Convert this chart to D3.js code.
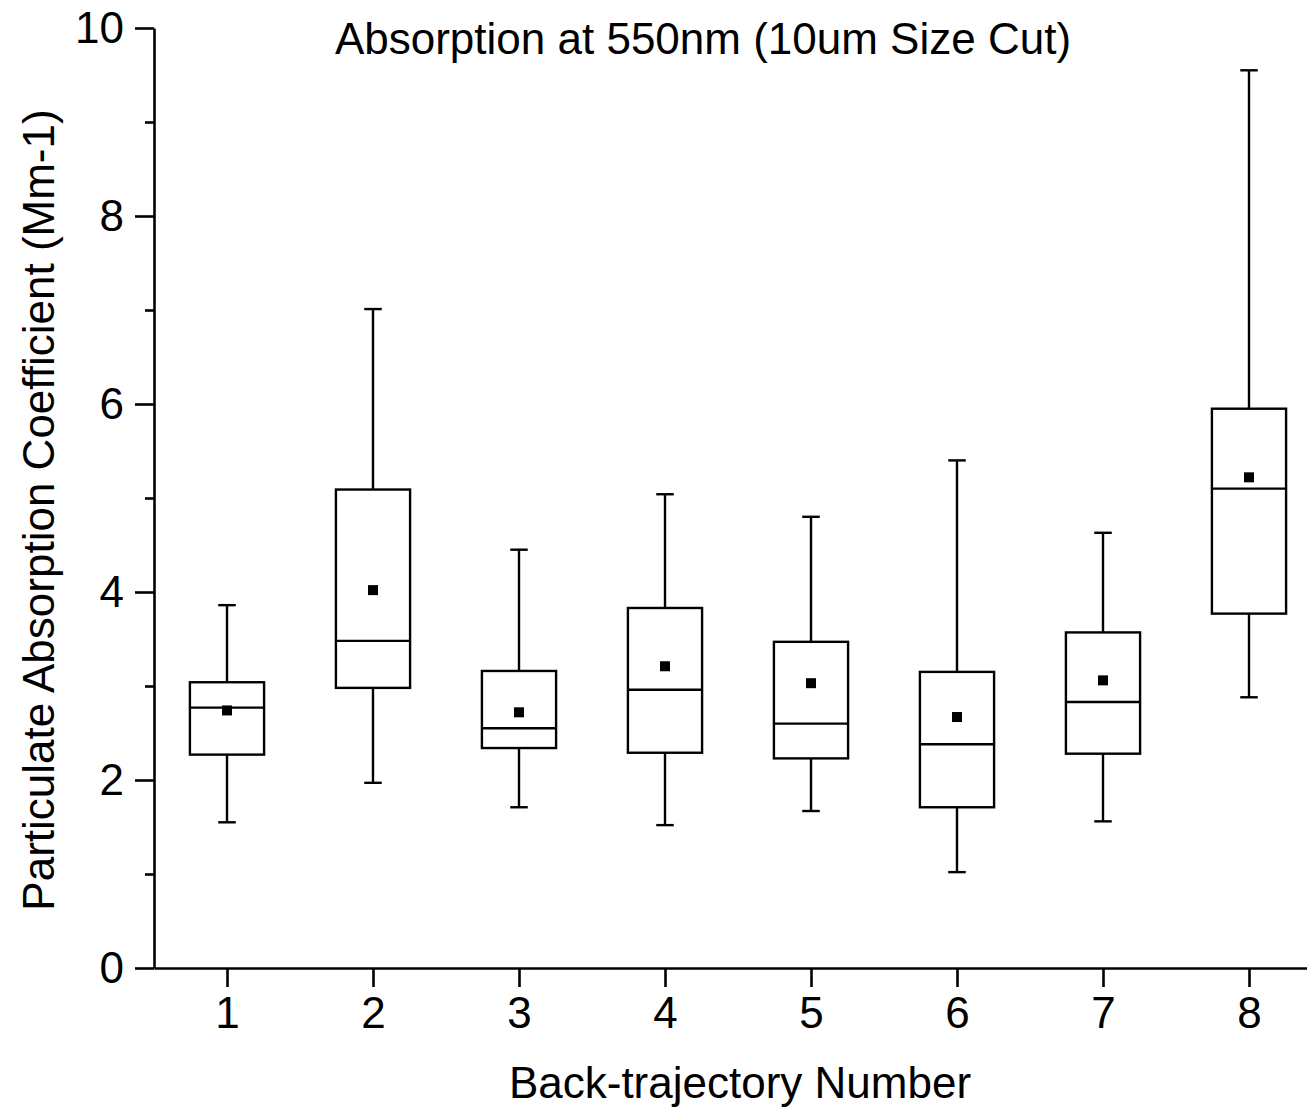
<!DOCTYPE html>
<html>
<head>
<meta charset="utf-8">
<script src="https://cdn.jsdelivr.net/npm/d3@7"></script>
<style>
  html, body { margin: 0; padding: 0; background: #fff; }
  svg { display: block; }
  text { font-family: "Liberation Sans", Arial, sans-serif; fill: #000; }
</style>
</head>
<body>
<svg id="chart" width="1307" height="1113"></svg>
<script>
// ---- data ----
const categories = [1, 2, 3, 4, 5, 6, 7, 8];
const whiskerLow  = [1.55, 1.97, 1.71, 1.52, 1.67, 1.02, 1.56, 2.88];
const q1          = [2.27, 2.98, 2.34, 2.29, 2.23, 1.71, 2.28, 3.77];
const median      = [2.77, 3.48, 2.55, 2.96, 2.60, 2.38, 2.83, 5.10];
const q3          = [3.04, 5.09, 3.16, 3.83, 3.47, 3.15, 3.57, 5.95];
const whiskerHigh = [3.86, 7.01, 4.45, 5.04, 4.80, 5.40, 4.63, 9.55];
const means       = [2.74, 4.02, 2.72, 3.21, 3.03, 2.67, 3.06, 5.22];
const yMajorTicks = [0, 2, 4, 6, 8, 10];
const yMinorTicks = [1, 3, 5, 7, 9];
const xTicks = [1, 2, 3, 4, 5, 6, 7, 8];
const titleText = "Absorption at 550nm (10um Size Cut)";
const xLabel = "Back-trajectory Number";
const yLabel = "Particulate Absorption Coefficient (Mm-1)";

// ---- layout ----
const svg = d3.select("#chart");
const x = d3.scaleLinear().domain([0.5, 8.5]).range([154, 1322]);
const y = d3.scaleLinear().domain([0, 10]).range([968, 28]);
const boxHalf = 0.254;
const capHalf = 0.06;
const fontSize = 44;

const data = categories.map((c, i) => ({
  c, lo: whiskerLow[i], q1: q1[i], med: median[i], q3: q3[i], hi: whiskerHigh[i], mean: means[i]
}));

// ---- boxes ----
const g = svg.append("g").attr("fill", "none").attr("stroke", "#000").attr("stroke-width", 2.4);
data.forEach(d => {
  const gg = g.append("g");
  gg.append("line").attr("x1", x(d.c)).attr("x2", x(d.c)).attr("y1", y(d.q3)).attr("y2", y(d.hi));
  gg.append("line").attr("x1", x(d.c)).attr("x2", x(d.c)).attr("y1", y(d.q1)).attr("y2", y(d.lo));
  gg.append("line").attr("x1", x(d.c - capHalf)).attr("x2", x(d.c + capHalf)).attr("y1", y(d.hi)).attr("y2", y(d.hi));
  gg.append("line").attr("x1", x(d.c - capHalf)).attr("x2", x(d.c + capHalf)).attr("y1", y(d.lo)).attr("y2", y(d.lo));
  gg.append("rect")
    .attr("x", x(d.c - boxHalf)).attr("width", x(d.c + boxHalf) - x(d.c - boxHalf))
    .attr("y", y(d.q3)).attr("height", y(d.q1) - y(d.q3))
    .attr("fill", "#fff");
  gg.append("line").attr("x1", x(d.c - boxHalf)).attr("x2", x(d.c + boxHalf)).attr("y1", y(d.med)).attr("y2", y(d.med));
  gg.append("rect").attr("x", x(d.c) - 5).attr("y", y(d.mean) - 5).attr("width", 10).attr("height", 10)
    .attr("fill", "#000").attr("stroke", "none");
});

// ---- axes ----
const yAxis = d3.axisLeft(y).tickValues(yMajorTicks).tickSize(19).tickSizeOuter(0).tickPadding(11)
  .tickFormat(d3.format("d"));
const yg = svg.append("g").attr("transform", `translate(${x(0.5)},0)`).call(yAxis);
yg.selectAll(".tick line").attr("stroke-width", 2.6);
yg.select(".domain").attr("stroke-width", 2.6);
yg.selectAll(".tick text").attr("font-size", fontSize).attr("font-family", "Liberation Sans, Arial, sans-serif");

const yMinor = d3.axisLeft(y).tickValues(yMinorTicks).tickSize(9).tickSizeOuter(0).tickFormat("");
const ymg = svg.append("g").attr("transform", `translate(${x(0.5)},0)`).call(yMinor);
ymg.select(".domain").remove();
ymg.selectAll(".tick line").attr("stroke-width", 2.6);

const xAxis = d3.axisBottom(x).tickValues(xTicks).tickSize(19).tickSizeOuter(0).tickPadding(10)
  .tickFormat(d3.format("d"));
const xg = svg.append("g").attr("transform", `translate(0,${y(0)})`).call(xAxis);
xg.selectAll(".tick line").attr("stroke-width", 2.6);
xg.select(".domain").attr("stroke-width", 2.6);
xg.selectAll(".tick text").attr("font-size", fontSize).attr("font-family", "Liberation Sans, Arial, sans-serif");

// ---- texts ----
svg.append("text").attr("x", 703).attr("y", 54).attr("text-anchor", "middle")
  .attr("font-size", fontSize).text(titleText);
svg.append("text").attr("x", 740).attr("y", 1098).attr("text-anchor", "middle")
  .attr("font-size", fontSize).text(xLabel);
svg.append("text").attr("transform", "translate(54,510) rotate(-90)").attr("text-anchor", "middle")
  .attr("font-size", fontSize).text(yLabel);
</script>
</body>
</html>
